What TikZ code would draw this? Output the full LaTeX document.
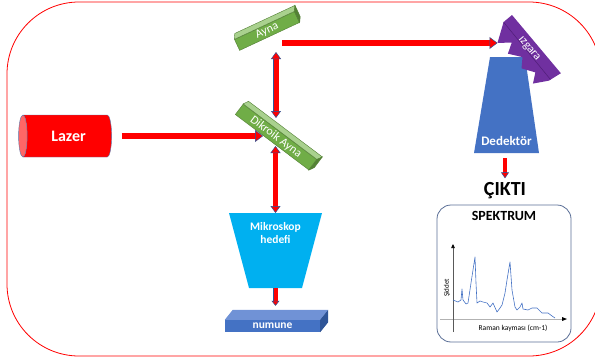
\documentclass[tikz,border=0pt]{standalone}
\usepackage{fontspec}
\setmainfont{Carlito}
\usetikzlibrary{arrows.meta,positioning,shapes.geometric,calc}

\definecolor{rayline}{RGB}{47,85,151}
\definecolor{barfront}{RGB}{112,173,71}
\definecolor{bartop}{RGB}{169,209,142}
\definecolor{barend}{RGB}{84,130,53}
\definecolor{barline}{RGB}{80,126,50}
\definecolor{detblue}{RGB}{68,114,196}
\definecolor{numtop}{RGB}{112,146,214}
\definecolor{numside}{RGB}{47,85,151}
\definecolor{objcyan}{RGB}{0,176,240}
\definecolor{gratepurple}{RGB}{112,48,160}
\definecolor{gratedark}{RGB}{80,30,120}
\definecolor{boxline}{RGB}{90,110,150}

\begin{document}
\begin{tikzpicture}[x=1pt, y=1pt, node distance=4pt,
  beam/.style args={#1/#2/#3}{draw=red, line width=#1,
    -{Triangle[length=#2,width=#3,color=rayline,fill=red,line width=0.5pt]},
    preaction={draw=rayline, line width=#1+0.8pt, -, shorten <=0pt, shorten >=#2-1pt}},
  dbeam/.style args={#1/#2/#3}{draw=red, line width=#1,
    {Triangle[length=#2,width=#3,color=rayline,fill=red,line width=0.5pt]}-{Triangle[length=#2,width=#3,color=rayline,fill=red,line width=0.5pt]},
    preaction={draw=rayline, line width=#1+0.8pt, -, shorten <=#2-1pt, shorten >=#2-1pt}},
  mirror/.style={draw=barline, line width=0.4pt, fill=barfront, text=white,
    font=\fontsize{12}{12}\selectfont, inner sep=0pt},
  whitebold/.style={text=white, font=\bfseries\fontsize{#1}{#1}\selectfont}
  ]
  \useasboundingbox (0,0) rectangle (595,360);

  %--- Frame
  \draw[red, line width=0.8pt, rounded corners=72pt] (7,4) rectangle (601,358);

  %--- Laser source
  \node[cylinder, shape border rotate=180, aspect=0.5,
        draw=rayline!80, line width=0.4pt,
        cylinder uses custom fill, cylinder body fill=red, cylinder end fill=red!60,
        minimum width=42pt, minimum height=93pt, whitebold=16] (lazer) at (68.5,224) {Lazer};

  %--- Mirrors
  \node[mirror, rotate=25, minimum width=66pt, minimum height=12pt] (ayna) at (267,329) {Ayna};
  \fill[bartop, draw=barline, line width=0.4pt] (ayna.north west) -- ++(85:6)
    -- ($(ayna.north east)+(85:6)$) -- (ayna.north east) -- cycle;
  \fill[barend, draw=barline, line width=0.4pt] (ayna.north east) -- ++(85:6)
    -- ($(ayna.south east)+(85:6)$) -- (ayna.south east) -- cycle;

  \node[mirror, rotate=-37, minimum width=92pt, minimum height=13pt] (dikroik) at (276,223) {Dikroik Ayna};
  \fill[bartop, draw=barline, line width=0.4pt] (dikroik.north west) -- ++(25:6)
    -- ($(dikroik.north east)+(25:6)$) -- (dikroik.north east) -- cycle;
  \fill[barend, draw=barline, line width=0.4pt] (dikroik.north east) -- ++(25:6)
    -- ($(dikroik.south east)+(25:6)$) -- (dikroik.south east) -- cycle;

  \coordinate (ayna-alt) at (276,308);
  \coordinate (ayna-sag) at (282,317);
  \coordinate (dik-ust) at (276,242);
  \coordinate (dik-alt) at (275.5,214);
  \coordinate (dik-sol) at (263,224);

  %--- Objective and sample
  \fill[objcyan] (229,147) -- (322,147) -- (302,72) -- (249,72) -- cycle;
  \coordinate (obj-ust) at (275.5,147);
  \coordinate (obj-alt) at (275.5,72);
  \node[whitebold=11.5, align=center, below=6pt of obj-ust] (objyazi) {Mikroskop\\[1.5pt]hedefi};

  \node[fill=detblue, minimum width=95pt, minimum height=12pt, inner sep=0pt, whitebold=11.5] (numune) at (272.5,34) {numune};
  \fill[numtop] (numune.north west) -- ++(8,10) -- ($(numune.north east)+(8,10)$) -- (numune.north east) -- cycle;
  \fill[numside] (numune.north east) -- ++(8,10) -- ($(numune.south east)+(8,10)$) -- (numune.south east) -- cycle;

  %--- Detector and grating
  \fill[detblue] (490,303) -- (525,303) -- (539,207) -- (474,207) -- cycle;
  \coordinate (ded-alt) at (506.5,207);
  \node[whitebold=13, above=4pt of ded-alt] (dedyazi) {Dedektör};

  \begin{scope}[shift={(512,345)}, rotate=-50]
    \fill[gratepurple] (0,0) -- (76,0) -- (74,-14) -- (66,-28) -- (59,-19) -- (47,-27)
      -- (39,-19) -- (27,-28) -- (21,-18) -- (12,-29) -- (0,-11) -- cycle;
    \draw[gratedark, line width=0.5pt] (0,-11) -- (74,-12);
    \coordinate (izgara-uc) at (12,-29);
    \node[rotate=-50, text=white, font=\fontsize{12}{12}\selectfont] (izgara) at (37,-9) {ızgara};
  \end{scope}

  %--- Output
  \node[font=\bfseries\fontsize{20}{20}\selectfont, anchor=base] (cikti) at (505,165) {ÇIKTI};

  \node[draw=boxline, line width=0.8pt, rounded corners=14pt,
        minimum width=134pt, minimum height=137pt] (spektrum) at (504,86.5) {};
  \node[font=\bfseries\fontsize{14}{14}\selectfont, below=3pt of spektrum.north] (baslik) {SPEKTRUM};

  % axes and curve of the spectrum
  \draw[gray!60, line width=0.5pt] (440,41) -- (563,41);
  \fill (567,41) -- (562,43) -- (562,39) -- cycle;
  \draw[gray!70!black, line width=0.7pt, -{Triangle[length=4pt,width=3.5pt,color=black]}] (453,28) -- (453,116);
  \node[rotate=90, font=\fontsize{7}{7}\selectfont] (siddet) at (447,72) {Şiddet};
  \node[font=\fontsize{7.5}{7.5}\selectfont] (raman) at (513,32) {Raman kayması (cm-1)};
  \draw[detblue, line width=0.6pt, line join=round]
    (453,60) -- (458,58) -- (461,60) -- (462,71) -- (463,60) -- (466,56) -- (468,57)
    -- (471,77) -- (475,103) -- (476,77) -- (477,57) -- (480,59) -- (483,58) -- (487,57)
    -- (490,53) -- (493,57) -- (497,48) -- (500,52) -- (502,55) -- (505,67) -- (507,80)
    -- (510,98) -- (512,70) -- (515,53) -- (517,50) -- (520,53) -- (522,57) -- (523,51)
    -- (528,50) -- (532,52) -- (537,52) -- (542,47) -- (545,47) -- (548,47) -- (552,44) -- (555,42);

  %--- Beams
  \draw[beam=6pt/8pt/12pt] ([xshift=10pt]lazer.east) -- (dik-sol);
  \draw[dbeam=5pt/7pt/10pt] (ayna-alt) -- (dik-ust);
  \draw[dbeam=5pt/7pt/10pt] (dik-alt) -- (dik-alt |- obj-ust);
  \draw[beam=6pt/8pt/12pt] (ayna-sag) -- (ayna-sag -| izgara-uc);
  \draw[beam=4pt/5pt/8pt] (obj-alt) -- ($(obj-alt |- numune.north)+(0,14)$);
  \draw[beam=3.5pt/6pt/8pt] ($(cikti.north |- ded-alt)+(0,-5)$) -- (cikti.north);

\end{tikzpicture}
\end{document}
